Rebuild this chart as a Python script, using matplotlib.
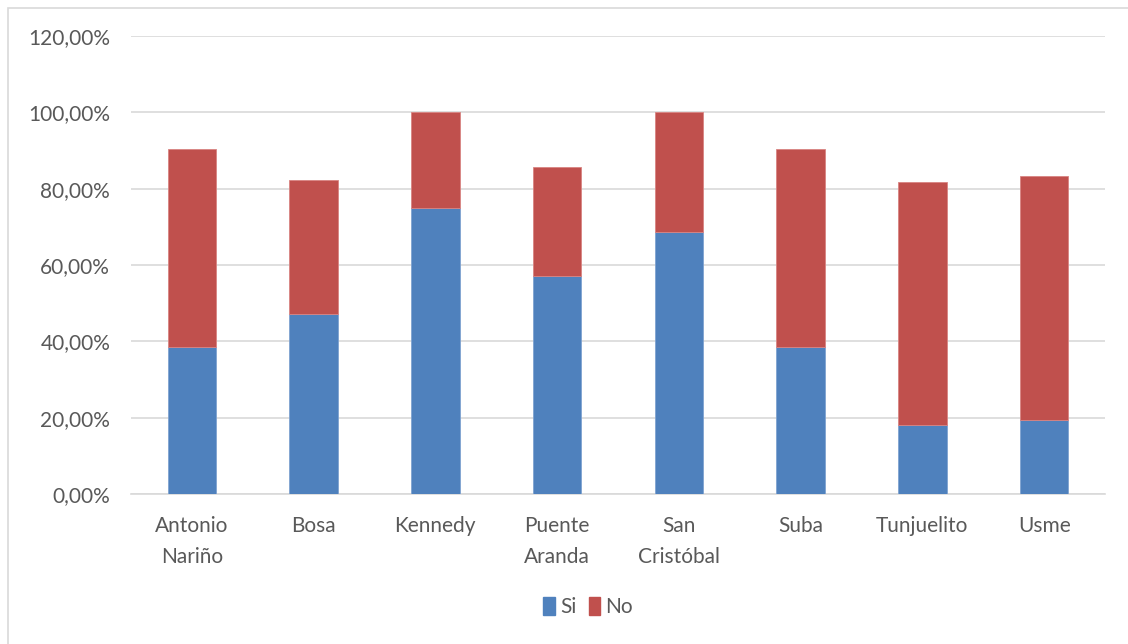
# Stacked percentage bars per locality (Si / No)
import matplotlib.pyplot as plt
import matplotlib.patches as mpatches
import numpy as np
from matplotlib.ticker import FuncFormatter

localidades = ['Antonio\nNariño', 'Bosa', 'Kennedy', 'Puente\nAranda',
               'San\nCristóbal', 'Suba', 'Tunjuelito', 'Usme']
si = [38.46, 47.06, 75.00, 57.14, 68.75, 38.46, 18.18, 19.44]
no = [51.92, 35.29, 25.00, 28.57, 31.25, 51.92, 63.64, 63.89]

azul = '#4F81BD'
rojo = '#C0504D'
gris = '#595959'

plt.rcParams['font.family'] = ['Lato', 'DejaVu Sans']

fig = plt.figure(figsize=(11.28, 6.44), dpi=100)
ax = fig.add_axes([131/1128, 1 - 494/644, (1105-131)/1128, (494-36)/644])

x = np.arange(len(localidades))
ax.bar(x, si, width=0.4, color=azul, edgecolor='#7FA3D0', linewidth=0.6, label='Si', zorder=3)
ax.bar(x, no, width=0.4, bottom=si, color=rojo, edgecolor='#D98482', linewidth=0.6, label='No', zorder=3)

ax.set_xlim(-0.5, len(localidades) - 0.5)
ax.set_ylim(0, 120)
ax.set_yticks(np.arange(0, 121, 20))
ax.yaxis.set_major_formatter(FuncFormatter(lambda v, p: ('%.2f%%' % v).replace('.', ',')))
ax.set_xticks(x)
ax.set_xticklabels(localidades, linespacing=1.7)

ax.grid(axis='y', color='#D9D9D9', linewidth=1.2, zorder=0)
for s in ['top', 'right', 'left']:
    ax.spines[s].set_visible(False)
ax.spines['bottom'].set_color('#D9D9D9')
ax.spines['bottom'].set_linewidth(1.2)
ax.tick_params(axis='both', length=0, labelsize=15, colors=gris)
ax.tick_params(axis='x', pad=16)
ax.tick_params(axis='y', pad=15)

handles = [mpatches.Patch(color=azul, label='Si'), mpatches.Patch(color=rojo, label='No')]
fig.legend(handles=handles, loc='center', bbox_to_anchor=(588/1128, 1 - 607/644), ncol=2,
           frameon=False, fontsize=15, handlelength=0.55, handleheight=1.0,
           handletextpad=0.25, columnspacing=0.6, labelcolor=gris)

# chart frame
fig.patches.append(mpatches.Rectangle((8/1128, -0.1), 1.2, 1 - 8/644 + 0.1,
                                      transform=fig.transFigure, fill=False,
                                      edgecolor='#D9D9D9', linewidth=1.2))

fig.savefig('out.png', dpi=100, facecolor='white')
